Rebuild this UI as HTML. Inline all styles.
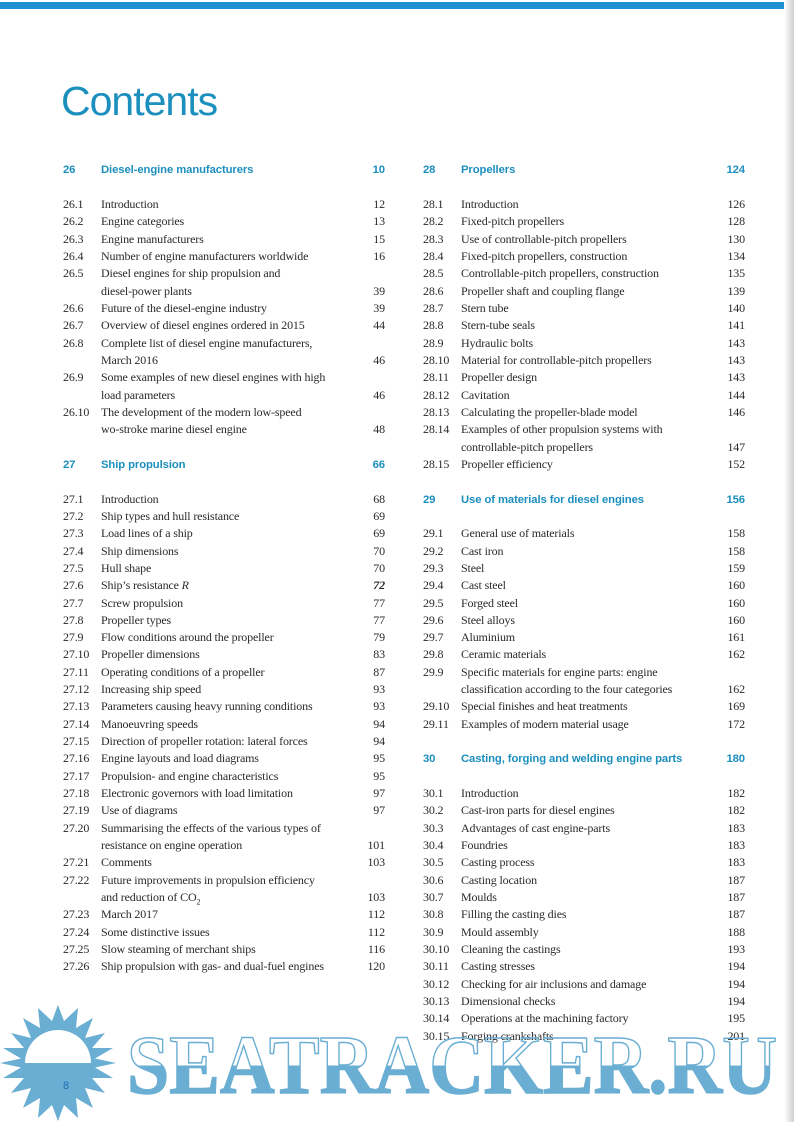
<!DOCTYPE html>
<html><head><meta charset="utf-8"><style>
html,body{margin:0;padding:0;background:#fff}
body{width:794px;height:1122px;position:relative;overflow:hidden}
.bar{position:absolute;left:0;top:2px;width:784px;height:7px;background:#1e8fd2}
.edge{position:absolute;right:0;top:0;width:10px;height:1122px;background:linear-gradient(to right,#fff,#e4e4e4 60%,#cfcfcf)}
h1{position:absolute;left:61px;top:78px;margin:0;font:400 41px "Liberation Sans",sans-serif;color:#1b8fbd;letter-spacing:-1px}
.col{position:absolute;top:161.3px;font-family:"Liberation Serif",serif;font-size:12px;color:#2a2a2a}
.l{height:17.33px;line-height:17.33px;position:relative;white-space:nowrap;letter-spacing:-0.15px}
.n{position:absolute;left:0}
.t{position:absolute;left:38px}
.p{position:absolute;right:0}
.h{font:700 11.3px "Liberation Sans",sans-serif;color:#1c8fbe;letter-spacing:-0.1px;top:3px}
sub{line-height:0;font-size:8px}
.c1{left:63px;width:322px}
.c2{left:423px;width:322px}
.wm{position:absolute;left:0;top:1000px}
.pg{position:absolute;left:63px;top:1080px;font:11px "Liberation Sans",sans-serif;color:#1b70b0}
</style></head><body>
<div class="bar"></div><div class="edge"></div>
<h1>Contents</h1>
<div class="col c1">
<div class="l h"><span class="n">26</span><span class="t">Diesel-engine manufacturers</span><span class="p">10</span></div>
<div class="l"></div>
<div class="l"><span class="n">26.1</span><span class="t">Introduction</span><span class="p">12</span></div>
<div class="l"><span class="n">26.2</span><span class="t">Engine categories</span><span class="p">13</span></div>
<div class="l"><span class="n">26.3</span><span class="t">Engine manufacturers</span><span class="p">15</span></div>
<div class="l"><span class="n">26.4</span><span class="t">Number of engine manufacturers worldwide</span><span class="p">16</span></div>
<div class="l"><span class="n">26.5</span><span class="t">Diesel engines for ship propulsion and</span></div>
<div class="l"><span class="t">diesel-power plants</span><span class="p">39</span></div>
<div class="l"><span class="n">26.6</span><span class="t">Future of the diesel-engine industry</span><span class="p">39</span></div>
<div class="l"><span class="n">26.7</span><span class="t">Overview of diesel engines ordered in 2015</span><span class="p">44</span></div>
<div class="l"><span class="n">26.8</span><span class="t">Complete list of diesel engine manufacturers,</span></div>
<div class="l"><span class="t">March 2016</span><span class="p">46</span></div>
<div class="l"><span class="n">26.9</span><span class="t">Some examples of new diesel engines with high</span></div>
<div class="l"><span class="t">load parameters</span><span class="p">46</span></div>
<div class="l"><span class="n">26.10</span><span class="t">The development of the modern low-speed</span></div>
<div class="l"><span class="t">wo-stroke marine diesel engine</span><span class="p">48</span></div>
<div class="l"></div>
<div class="l h"><span class="n">27</span><span class="t">Ship propulsion</span><span class="p">66</span></div>
<div class="l"></div>
<div class="l"><span class="n">27.1</span><span class="t">Introduction</span><span class="p">68</span></div>
<div class="l"><span class="n">27.2</span><span class="t">Ship types and hull resistance</span><span class="p">69</span></div>
<div class="l"><span class="n">27.3</span><span class="t">Load lines of a ship</span><span class="p">69</span></div>
<div class="l"><span class="n">27.4</span><span class="t">Ship dimensions</span><span class="p">70</span></div>
<div class="l"><span class="n">27.5</span><span class="t">Hull shape</span><span class="p">70</span></div>
<div class="l"><span class="n">27.6</span><span class="t">Ship’s resistance <i>R</i></span><span class="p"><b><i>72</i></b></span></div>
<div class="l"><span class="n">27.7</span><span class="t">Screw propulsion</span><span class="p">77</span></div>
<div class="l"><span class="n">27.8</span><span class="t">Propeller types</span><span class="p">77</span></div>
<div class="l"><span class="n">27.9</span><span class="t">Flow conditions around the propeller</span><span class="p">79</span></div>
<div class="l"><span class="n">27.10</span><span class="t">Propeller dimensions</span><span class="p">83</span></div>
<div class="l"><span class="n">27.11</span><span class="t">Operating conditions of a propeller</span><span class="p">87</span></div>
<div class="l"><span class="n">27.12</span><span class="t">Increasing ship speed</span><span class="p">93</span></div>
<div class="l"><span class="n">27.13</span><span class="t">Parameters causing heavy running conditions</span><span class="p">93</span></div>
<div class="l"><span class="n">27.14</span><span class="t">Manoeuvring speeds</span><span class="p">94</span></div>
<div class="l"><span class="n">27.15</span><span class="t">Direction of propeller rotation: lateral forces</span><span class="p">94</span></div>
<div class="l"><span class="n">27.16</span><span class="t">Engine layouts and load diagrams</span><span class="p">95</span></div>
<div class="l"><span class="n">27.17</span><span class="t">Propulsion- and engine characteristics</span><span class="p">95</span></div>
<div class="l"><span class="n">27.18</span><span class="t">Electronic governors with load limitation</span><span class="p">97</span></div>
<div class="l"><span class="n">27.19</span><span class="t">Use of diagrams</span><span class="p">97</span></div>
<div class="l"><span class="n">27.20</span><span class="t">Summarising the effects of the various types of</span></div>
<div class="l"><span class="t">resistance on engine operation</span><span class="p">101</span></div>
<div class="l"><span class="n">27.21</span><span class="t">Comments</span><span class="p">103</span></div>
<div class="l"><span class="n">27.22</span><span class="t">Future improvements in propulsion efficiency</span></div>
<div class="l"><span class="t">and reduction of CO<sub>2</sub></span><span class="p">103</span></div>
<div class="l"><span class="n">27.23</span><span class="t">March 2017</span><span class="p">112</span></div>
<div class="l"><span class="n">27.24</span><span class="t">Some distinctive issues</span><span class="p">112</span></div>
<div class="l"><span class="n">27.25</span><span class="t">Slow steaming of merchant ships</span><span class="p">116</span></div>
<div class="l"><span class="n">27.26</span><span class="t">Ship propulsion with gas- and dual-fuel engines</span><span class="p">120</span></div>
</div>
<div class="col c2">
<div class="l h"><span class="n">28</span><span class="t">Propellers</span><span class="p">124</span></div>
<div class="l"></div>
<div class="l"><span class="n">28.1</span><span class="t">Introduction</span><span class="p">126</span></div>
<div class="l"><span class="n">28.2</span><span class="t">Fixed-pitch propellers</span><span class="p">128</span></div>
<div class="l"><span class="n">28.3</span><span class="t">Use of controllable-pitch propellers</span><span class="p">130</span></div>
<div class="l"><span class="n">28.4</span><span class="t">Fixed-pitch propellers, construction</span><span class="p">134</span></div>
<div class="l"><span class="n">28.5</span><span class="t">Controllable-pitch propellers, construction</span><span class="p">135</span></div>
<div class="l"><span class="n">28.6</span><span class="t">Propeller shaft and coupling flange</span><span class="p">139</span></div>
<div class="l"><span class="n">28.7</span><span class="t">Stern tube</span><span class="p">140</span></div>
<div class="l"><span class="n">28.8</span><span class="t">Stern-tube seals</span><span class="p">141</span></div>
<div class="l"><span class="n">28.9</span><span class="t">Hydraulic bolts</span><span class="p">143</span></div>
<div class="l"><span class="n">28.10</span><span class="t">Material for controllable-pitch propellers</span><span class="p">143</span></div>
<div class="l"><span class="n">28.11</span><span class="t">Propeller design</span><span class="p">143</span></div>
<div class="l"><span class="n">28.12</span><span class="t">Cavitation</span><span class="p">144</span></div>
<div class="l"><span class="n">28.13</span><span class="t">Calculating the propeller-blade model</span><span class="p">146</span></div>
<div class="l"><span class="n">28.14</span><span class="t">Examples of other propulsion systems with</span></div>
<div class="l"><span class="t">controllable-pitch propellers</span><span class="p">147</span></div>
<div class="l"><span class="n">28.15</span><span class="t">Propeller efficiency</span><span class="p">152</span></div>
<div class="l"></div>
<div class="l h"><span class="n">29</span><span class="t">Use of materials for diesel engines</span><span class="p">156</span></div>
<div class="l"></div>
<div class="l"><span class="n">29.1</span><span class="t">General use of materials</span><span class="p">158</span></div>
<div class="l"><span class="n">29.2</span><span class="t">Cast iron</span><span class="p">158</span></div>
<div class="l"><span class="n">29.3</span><span class="t">Steel</span><span class="p">159</span></div>
<div class="l"><span class="n">29.4</span><span class="t">Cast steel</span><span class="p">160</span></div>
<div class="l"><span class="n">29.5</span><span class="t">Forged steel</span><span class="p">160</span></div>
<div class="l"><span class="n">29.6</span><span class="t">Steel alloys</span><span class="p">160</span></div>
<div class="l"><span class="n">29.7</span><span class="t">Aluminium</span><span class="p">161</span></div>
<div class="l"><span class="n">29.8</span><span class="t">Ceramic materials</span><span class="p">162</span></div>
<div class="l"><span class="n">29.9</span><span class="t">Specific materials for engine parts: engine</span></div>
<div class="l"><span class="t">classification according to the four categories</span><span class="p">162</span></div>
<div class="l"><span class="n">29.10</span><span class="t">Special finishes and heat treatments</span><span class="p">169</span></div>
<div class="l"><span class="n">29.11</span><span class="t">Examples of modern material usage</span><span class="p">172</span></div>
<div class="l"></div>
<div class="l h"><span class="n">30</span><span class="t">Casting, forging and welding engine parts</span><span class="p">180</span></div>
<div class="l"></div>
<div class="l"><span class="n">30.1</span><span class="t">Introduction</span><span class="p">182</span></div>
<div class="l"><span class="n">30.2</span><span class="t">Cast-iron parts for diesel engines</span><span class="p">182</span></div>
<div class="l"><span class="n">30.3</span><span class="t">Advantages of cast engine-parts</span><span class="p">183</span></div>
<div class="l"><span class="n">30.4</span><span class="t">Foundries</span><span class="p">183</span></div>
<div class="l"><span class="n">30.5</span><span class="t">Casting process</span><span class="p">183</span></div>
<div class="l"><span class="n">30.6</span><span class="t">Casting location</span><span class="p">187</span></div>
<div class="l"><span class="n">30.7</span><span class="t">Moulds</span><span class="p">187</span></div>
<div class="l"><span class="n">30.8</span><span class="t">Filling the casting dies</span><span class="p">187</span></div>
<div class="l"><span class="n">30.9</span><span class="t">Mould assembly</span><span class="p">188</span></div>
<div class="l"><span class="n">30.10</span><span class="t">Cleaning the castings</span><span class="p">193</span></div>
<div class="l"><span class="n">30.11</span><span class="t">Casting stresses</span><span class="p">194</span></div>
<div class="l"><span class="n">30.12</span><span class="t">Checking for air inclusions and damage</span><span class="p">194</span></div>
<div class="l"><span class="n">30.13</span><span class="t">Dimensional checks</span><span class="p">194</span></div>
<div class="l"><span class="n">30.14</span><span class="t">Operations at the machining factory</span><span class="p">195</span></div>
<div class="l"><span class="n">30.15</span><span class="t">Forging crankshafts</span><span class="p">201</span></div>
</div>
<svg class="wm" width="794" height="122" viewBox="0 0 794 122">
<defs><linearGradient id="g" x1="0" y1="0" x2="0" y2="1">
<stop offset="0.5" stop-color="#fff" stop-opacity="0"/><stop offset="0.5" stop-color="#6aaed3"/></linearGradient></defs>
<polygon fill="#6aaed3" points="
116,63 95,67.5 113,78 92,78 105,93 85,88 93,108 76,98 78,118 64,105 58,121 52,105 38,118 40,98 23,108 31,88 11,93 24,78 3,78 21,67.5 0,63 21,58.5 3,48 24,48 11,33 31,38 23,18 40,28 38,8 52,21 58,5 64,21 78,8 76,28 93,18 85,38 105,33 92,48 113,48 95,58.5"/>
<path d="M25,63 A33,33 0 0 1 91,63 Z" fill="#fff"/>
<text x="127" y="93" textLength="650" lengthAdjust="spacingAndGlyphs" font-family="Liberation Serif,serif" font-weight="700" font-size="84" fill="url(#g)" stroke="#6aaed3" stroke-width="1.5">SEATRACKER.RU</text>
</svg>
<div class="pg">8</div>
</body></html>
